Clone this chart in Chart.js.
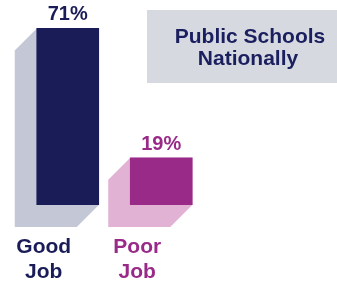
<!DOCTYPE html>
<html>
<head>
<meta charset="utf-8">
<script src="https://cdn.jsdelivr.net/npm/chart.js@4/dist/chart.umd.min.js"></script>
<style>
  body { margin: 0; background: #fff; }
  #wrap { width: 337px; height: 284px; }
</style>
</head>
<body>
<div id="wrap"><canvas id="chart" width="337" height="284"></canvas></div>
<script>
// data
var categories = ['Good Job', 'Poor Job'];
var labelLines = [['Good', 'Job'], ['Poor', 'Job']];
var values = [71, 19];
var titleLines = ['Public Schools', 'Nationally'];

var frontColors = ['#1a1c58', '#992a88'];
var shadowColors = ['#c4c7d5', '#e2b2d5'];
var FONT = '"Liberation Sans", Arial, Helvetica, sans-serif';

var depth = 22;

var extrudePlugin = {
  id: 'extrude',
  beforeDraw: function(chart) {
    var ctx = chart.ctx;
    // title box
    ctx.save();
    ctx.fillStyle = '#d7d9e1';
    ctx.fillRect(147, 10, 190, 73);
    ctx.fillStyle = '#1a1f5e';
    ctx.font = 'bold 21px ' + FONT;
    ctx.textAlign = 'center';
    ctx.textBaseline = 'alphabetic';
    ctx.fillText(titleLines[0], 250, 43);
    ctx.fillText(titleLines[1], 248, 65);
    ctx.restore();
  },
  beforeDatasetsDraw: function(chart) {
    // extruded side/bottom face behind each bar
    var ctx = chart.ctx;
    var meta = chart.getDatasetMeta(0);
    meta.data.forEach(function(bar, i) {
      var p = bar.getProps(['x', 'y', 'base', 'width'], true);
      var x0 = p.x - p.width / 2, x1 = p.x + p.width / 2;
      ctx.save();
      ctx.fillStyle = shadowColors[i];
      ctx.beginPath();
      ctx.moveTo(x0, p.y);
      ctx.lineTo(x0 - depth, p.y + depth);
      ctx.lineTo(x0 - depth, p.base + depth);
      ctx.lineTo(x1 - depth, p.base + depth);
      ctx.lineTo(x1, p.base);
      ctx.lineTo(x1, p.y);
      ctx.closePath();
      ctx.fill();
      ctx.restore();
    });
  },
  afterDatasetsDraw: function(chart) {
    var ctx = chart.ctx;
    var meta = chart.getDatasetMeta(0);
    meta.data.forEach(function(bar, i) {
      var p = bar.getProps(['x', 'y', 'base'], true);
      ctx.save();
      ctx.fillStyle = frontColors[i];
      ctx.textAlign = 'center';
      ctx.textBaseline = 'alphabetic';
      ctx.font = 'bold 20px ' + FONT;
      ctx.fillText(values[i] + '%', p.x, p.y - 8);
      ctx.font = 'bold 21px ' + FONT;
      var lx = p.x - 24;
      ctx.fillText(labelLines[i][0], lx, p.base + 48);
      ctx.fillText(labelLines[i][1], lx, p.base + 73);
      ctx.restore();
    });
  }
};

new Chart(document.getElementById('chart'), {
  type: 'bar',
  data: {
    labels: categories,
    datasets: [{
      data: values,
      backgroundColor: frontColors,
      borderWidth: 0,
      barThickness: 62
    }]
  },
  options: {
    responsive: false,
    animation: false,
    layout: { padding: { left: 21, right: 129, top: 6, bottom: 79 } },
    plugins: {
      legend: { display: false },
      tooltip: { enabled: false }
    },
    scales: {
      x: { display: false },
      y: { display: false, min: 0, max: 80 }
    }
  },
  plugins: [extrudePlugin]
});
</script>
</body>
</html>
